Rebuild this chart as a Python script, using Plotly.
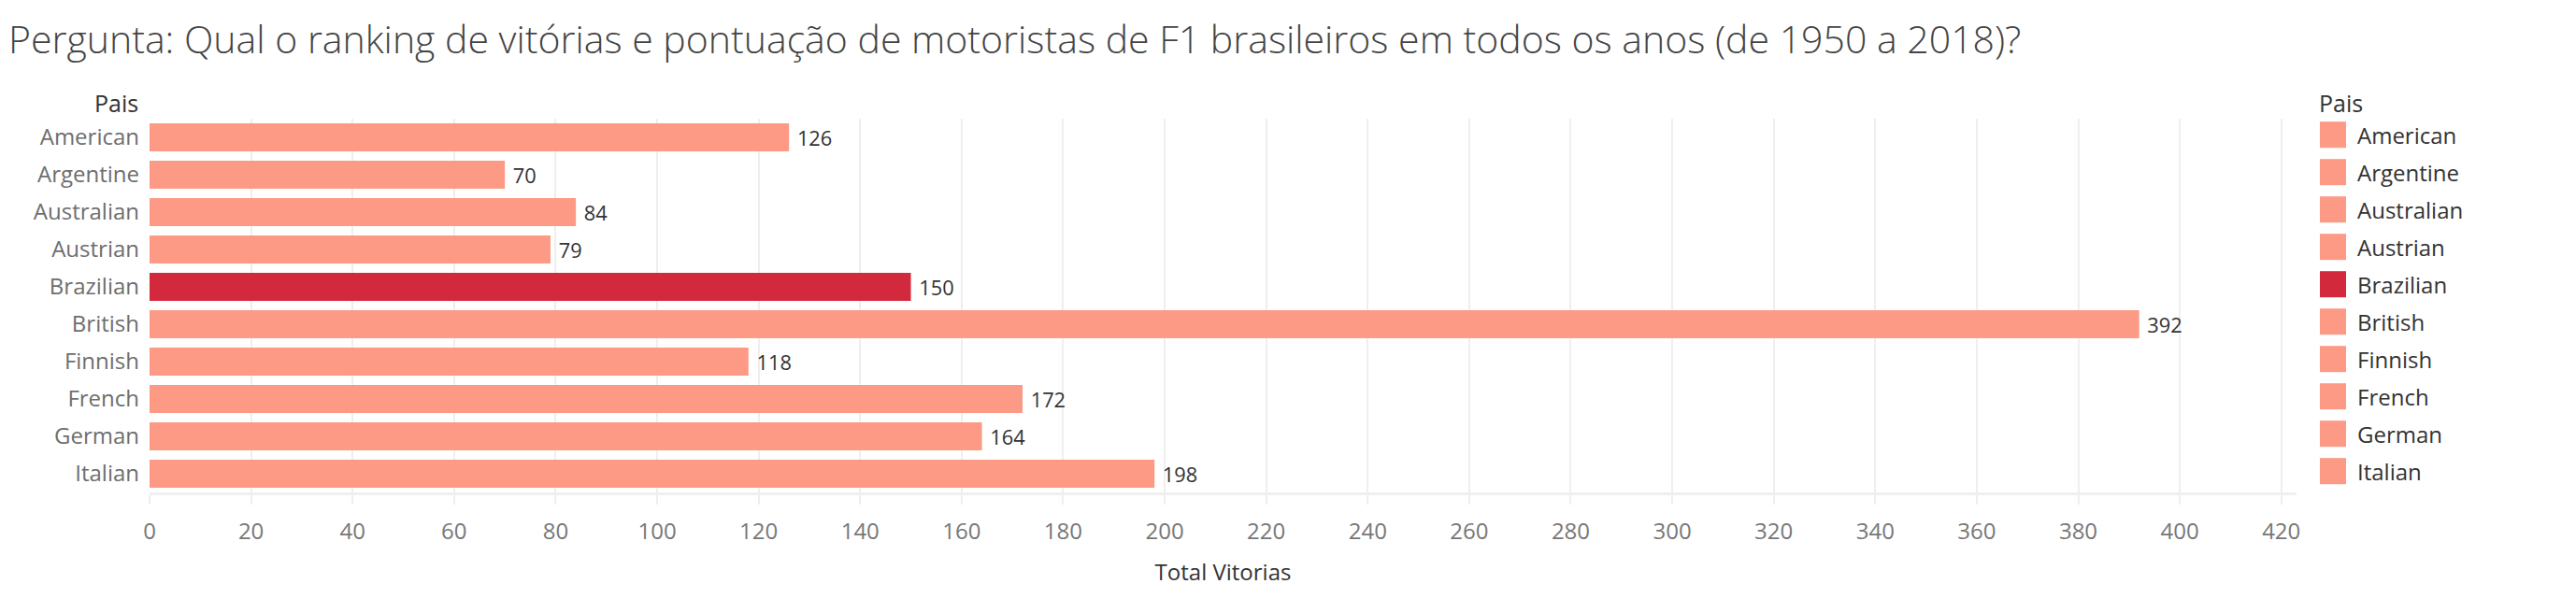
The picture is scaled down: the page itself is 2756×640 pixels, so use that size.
import plotly.graph_objects as go

paises = ["American", "Argentine", "Australian", "Austrian", "Brazilian",
          "British", "Finnish", "French", "German", "Italian"]
vitorias = [126, 70, 84, 79, 150, 392, 118, 172, 164, 198]
destaque = "Brazilian"

COR_BASE = "#FC9A85"
COR_DEST = "#D3293D"
cores = [COR_DEST if p == destaque else COR_BASE for p in paises]

W, H = 2756, 640
L, R, T, B = 160, 299, 127, 113
FONT = "Open Sans"

def px_x(px):
    return (px - L) / (W - L - R)

def px_y(py):
    return (H - B - py) / (H - T - B)

fig = go.Figure()
fig.add_trace(go.Bar(
    y=paises, x=vitorias, orientation="h",
    marker=dict(color=cores, line=dict(width=0)),
    width=0.75,
    text=[f" {v}" for v in vitorias],
    textposition="outside",
    textfont=dict(family=FONT, size=24, color="#333333"),
    cliponaxis=False,
    showlegend=False,
    hoverinfo="x+y",
))

shapes = []
annotations = []
for i, (p, c) in enumerate(zip(paises, cores)):
    shapes.append(dict(type="rect", xref="paper", yref="y",
                       x0=px_x(2482), x1=px_x(2510), y0=i - 0.42, y1=i + 0.28,
                       fillcolor=c, line=dict(width=0), layer="above"))
    annotations.append(dict(xref="paper", yref="y", x=px_x(2520), y=i - 0.07,
                            text=p, showarrow=False, xanchor="left", yanchor="middle",
                            font=dict(family=FONT, size=24, color="#333333")))

annotations.append(dict(xref="paper", yref="paper", x=px_x(2479), y=px_y(110),
                        text="Pais", showarrow=False, xanchor="left", yanchor="middle",
                        font=dict(family=FONT, size=25, color="#333333", weight=500)))
annotations.append(dict(xref="paper", yref="paper", x=px_x(150), y=px_y(110),
                        text="Pais", showarrow=False, xanchor="right", yanchor="middle",
                        font=dict(family=FONT, size=25, color="#333333", weight=500)))

fig.update_layout(
    width=W, height=H,
    margin=dict(l=L, r=R, t=T, b=B, autoexpand=False),
    paper_bgcolor="white", plot_bgcolor="white",
    title=dict(text="Pergunta: Qual o ranking de vitórias e pontuação de motoristas de F1 brasileiros em todos os anos (de 1950 a 2018)?",
               x=9 / W, xanchor="left", y=1 - 43 / H, yanchor="middle",
               font=dict(family=FONT, size=41, color="#444444", weight=300)),
    xaxis=dict(range=[0, 423], dtick=20, tick0=0,
               showgrid=True, gridcolor="#EFEFEF", gridwidth=2,
               zeroline=False,
               showline=True, linecolor="#EFEFEF", linewidth=3,
               ticks="outside", ticklen=10, tickcolor="#EFEFEF", tickwidth=2,
               tickfont=dict(family=FONT, size=24, color="#777777"),
               ticklabelstandoff=8,
               title=dict(text="Total Vitorias", standoff=22,
                          font=dict(family=FONT, size=24, color="#333333", weight=500))),
    yaxis=dict(categoryorder="array", categoryarray=paises, autorange=False,
               range=[9.5, -0.5], showgrid=False, zeroline=False, showline=False,
               ticks="", ticklabelstandoff=10,
               tickfont=dict(family=FONT, size=24, color="#6E6E6E")),
    shapes=shapes,
    annotations=annotations,
    bargap=0.25,
)

fig.write_html("out.html", config={"displayModeBar": False},
               post_script="document.body.style.margin='0';")
